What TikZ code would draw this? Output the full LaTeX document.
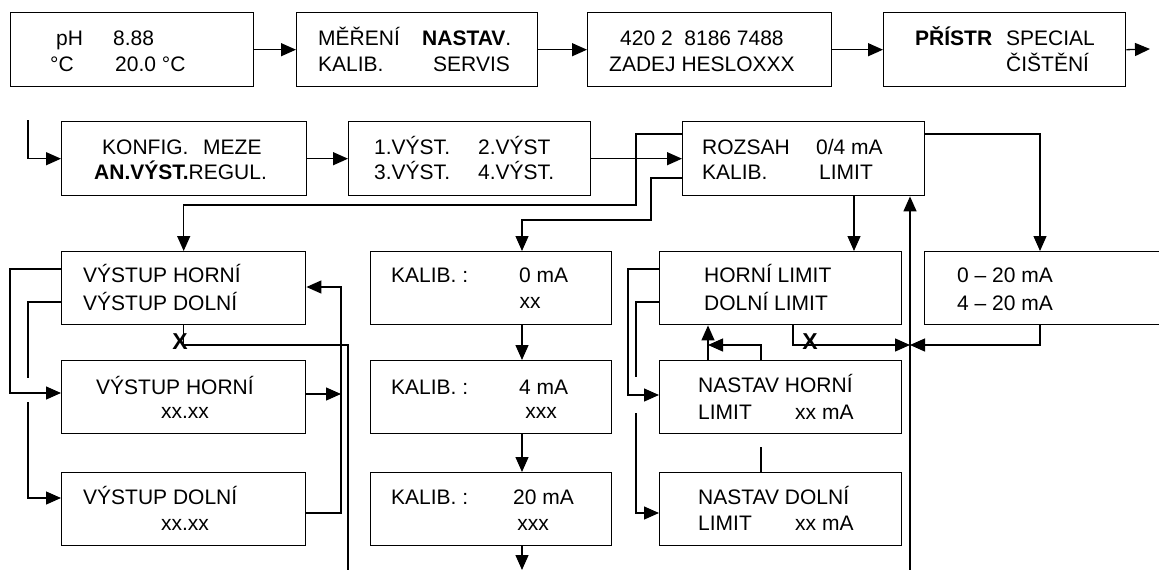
\documentclass[tikz,border=0pt]{standalone}
\usepackage{fontspec}
\setmainfont{Liberation Sans}
\usetikzlibrary{arrows.meta}
\begin{document}
\begin{tikzpicture}[x=1pt,y=-1pt,
  box/.style={draw, line width=1.4pt, inner sep=0pt, anchor=north west},
  txt/.style={inner sep=0pt, anchor=base west, font=\fontsize{21pt}{25pt}\selectfont},
  txtc/.style={inner sep=0pt, anchor=base, font=\fontsize{21pt}{25pt}\selectfont},
  xmark/.style={inner sep=0pt, font=\fontsize{23pt}{25pt}\selectfont\bfseries},
  ln/.style={line width=1.3pt},
  arr/.style={line width=1.3pt, -{Triangle[length=15pt,width=13pt]}}]
\clip (0,0) rectangle (1159,570);
\fill[white] (0,0) rectangle (1159,570);
% row 1
\node[box, minimum width=243pt, minimum height=74pt] (b1) at (10,12) {};
\node[box, minimum width=241pt, minimum height=74pt] (b2) at (296,12) {};
\node[box, minimum width=244pt, minimum height=74pt] (b3) at (587,12) {};
\node[box, minimum width=242pt, minimum height=74pt] (b4) at (883,12) {};
\node[txt] (t1a) at (56,45.5) {pH};
\node[txt] (t1b) at (113,45.5) {8.88};
\node[txt] (t1c) at (50,71.5) {°C};
\node[txt] (t1d) at (115,71.5) {20.0 °C};
\node[txt] (t2a) at (318,45.5) {MĚŘENÍ};
\node[txt] (t2b) at (422,45.5) {\textbf{NASTAV}.};
\node[txt] (t2c) at (318,71.5) {KALIB.};
\node[txt] (t2d) at (433,71.5) {SERVIS};
\node[txt] (t3a) at (620,45.5) {420 2\ \ 8186 7488};
\node[txt] (t3b) at (609,71.5) {ZADEJ HESLOXXX};
\node[txt] (t4a) at (915,45.5) {\textbf{PŘÍSTR}};
\node[txt] (t4b) at (1006,45.5) {SPECIAL};
\node[txt] (t4c) at (1006,71.5) {ČIŠTĚNÍ};
\coordinate (e1) at (1150,49);
\draw[arr] (b1.east) -- (b2.west);
\draw[arr] (b2.east) -- (b3.west);
\draw[arr] (b3.east) -- (b4.west);
\draw[arr] (b4.east) -- (e1);
% row 2
\node[box, minimum width=245pt, minimum height=74pt] (k1) at (61,121) {};
\node[box, minimum width=242pt, minimum height=74pt] (k2) at (348,121) {};
\node[box, minimum width=242pt, minimum height=74pt] (k3) at (682,121) {};
\node[txt] (tk1) at (102,154.5) {KONFIG.};
\node[txt] (tk2) at (203,154.5) {MEZE};
\node[txt] (tk3) at (94,179.5) {\textbf{AN.VÝST.}REGUL.};
\node[txt] (tk4) at (374,154.5) {1.VÝST.};
\node[txt] (tk5) at (478,154.5) {2.VÝST};
\node[txt] (tk6) at (374,179.5) {3.VÝST.};
\node[txt] (tk7) at (478,179.5) {4.VÝST.};
\node[txt] (tk8) at (702,154.5) {ROZSAH};
\node[txt] (tk9) at (816,154.5) {0/4 mA};
\node[txt] (tk10) at (702,179.5) {KALIB.};
\node[txt] (tk11) at (819,179.5) {LIMIT};
\coordinate (in2) at (28,120);
\draw[arr] (in2) |- (k1.west);
\draw[arr] (k1.east) -- (k2.west);
\draw[arr] (k2.east) -- (k3.west);
% row 3-5 boxes
\node[box, minimum width=244pt, minimum height=73pt] (v1) at (61,251) {};
\node[box, minimum width=244pt, minimum height=73pt] (v2) at (61,360) {};
\node[box, minimum width=244pt, minimum height=73pt] (v3) at (61,472) {};
\node[box, minimum width=241pt, minimum height=73pt] (c1) at (370,251) {};
\node[box, minimum width=241pt, minimum height=73pt] (c2) at (370,360) {};
\node[box, minimum width=241pt, minimum height=73pt] (c3) at (370,472) {};
\node[box, minimum width=242pt, minimum height=73pt] (h1) at (659,251) {};
\node[box, minimum width=242pt, minimum height=73pt] (h2) at (659,360) {};
\node[box, minimum width=242pt, minimum height=73pt] (h3) at (659,472) {};
\node[box, minimum width=260pt, minimum height=73pt] (r1) at (924,251) {};
% texts
\node[txt] (tv1) at (83,282.5) {VÝSTUP HORNÍ};
\node[txt] (tv2) at (83,310.5) {VÝSTUP DOLNÍ};
\node[txt] (tv3) at (96,394.5) {VÝSTUP HORNÍ};
\node[txtc] (tv4) at (185,418.5) {xx.xx};
\node[txt] (tv5) at (83,504.5) {VÝSTUP DOLNÍ};
\node[txtc] (tv6) at (185,530.5) {xx.xx};
\node[txt] (tc1) at (391,282.5) {KALIB. :};
\node[txt] (tc2) at (519,282.5) {0 mA};
\node[txtc] (tc3) at (530,308.5) {xx};
\node[txt] (tc4) at (391,394.5) {KALIB. :};
\node[txt] (tc5) at (519,394.5) {4 mA};
\node[txtc] (tc6) at (541,418.5) {xxx};
\node[txt] (tc7) at (391,504.5) {KALIB. :};
\node[txt] (tc8) at (513,504.5) {20 mA};
\node[txtc] (tc9) at (533,530.5) {xxx};
\node[txt] (th1) at (704,282.5) {HORNÍ LIMIT};
\node[txt] (th2) at (704,310.5) {DOLNÍ LIMIT};
\node[txt] (th3) at (698,392.5) {NASTAV HORNÍ};
\node[txt] (th4) at (698,419.5) {LIMIT};
\node[txt] (th5) at (795,419.5) {xx mA};
\node[txt] (th6) at (698,504.5) {NASTAV DOLNÍ};
\node[txt] (th7) at (698,530.5) {LIMIT};
\node[txt] (th8) at (795,530.5) {xx mA};
\node[txt] (tr1) at (957,282.5) {0 – 20 mA};
\node[txt] (tr2) at (957,310.5) {4 – 20 mA};
% connectors from ROZSAH
\draw[arr] (k3.west |- 0,134) -- (636,134) -- (636,205) -- (v1.north |- 0,205) -- (v1.north);
\draw[arr] (k3.west |- 0,178) -- (651,178) -- (651,220) -- (522,220) -- (c1.north -| 522,0);
\draw[arr] (k3.east |- 0,134) -- (1040,134) -- (r1.north -| 1040,0);
\draw[arr] (k3.south -| 854,0) -- (h1.north -| 854,0);
\coordinate (e3) at (910,572);
\draw[arr] (e3) -- (k3.south -| 910,0);
% left group
\draw[arr] (v1.west |- 0,269) -- (10,269) |- (v2.west |- 0,393);
\draw[ln] (v1.west |- 0,302) -- (28,302) -- (28,378);
\draw[arr] (28,402) |- (v3.west |- 0,498);
\draw[ln] (v1.south) -- (v1.south |- 0,345) -- (348,345) -- (348,572);
\node[xmark] (x1) at (180,342) {X};
\draw[arr] (v2.east |- 0,394) -- (341,394);
\draw[arr] (v3.east |- 0,513) -- (341,513) -- (341,287) -- (v1.east |- 0,287);
% kalib chain
\coordinate (e2) at (522,570);
\draw[arr] (c1.south -| 522,0) -- (c2.north -| 522,0);
\draw[arr] (c2.south -| 522,0) -- (c3.north -| 522,0);
\draw[arr] (c3.south -| 522,0) -- (e2);
% limit group
\draw[arr] (h1.west |- 0,269) -- (628,269) |- (h2.west |- 0,395);
\draw[ln] (h1.west |- 0,302) -- (636,302) -- (636,377);
\draw[arr] (636,413) |- (h3.west |- 0,513);
\draw[arr] (h1.south -| 793,0) -- (793,345) -- (910,345);
\node[xmark] (x2) at (810,342) {X};
\draw[arr] (r1.south -| 1040,0) -- (1040,345) -- (910,345);
\draw[arr] (h2.north -| 708,0) -- (h1.south -| 708,0);
\draw[arr] (h2.north -| 761,0) -- (761,345) -- (708,345);
\draw[ln] (761,447) -- (h3.north -| 761,0);
\end{tikzpicture}
\end{document}
